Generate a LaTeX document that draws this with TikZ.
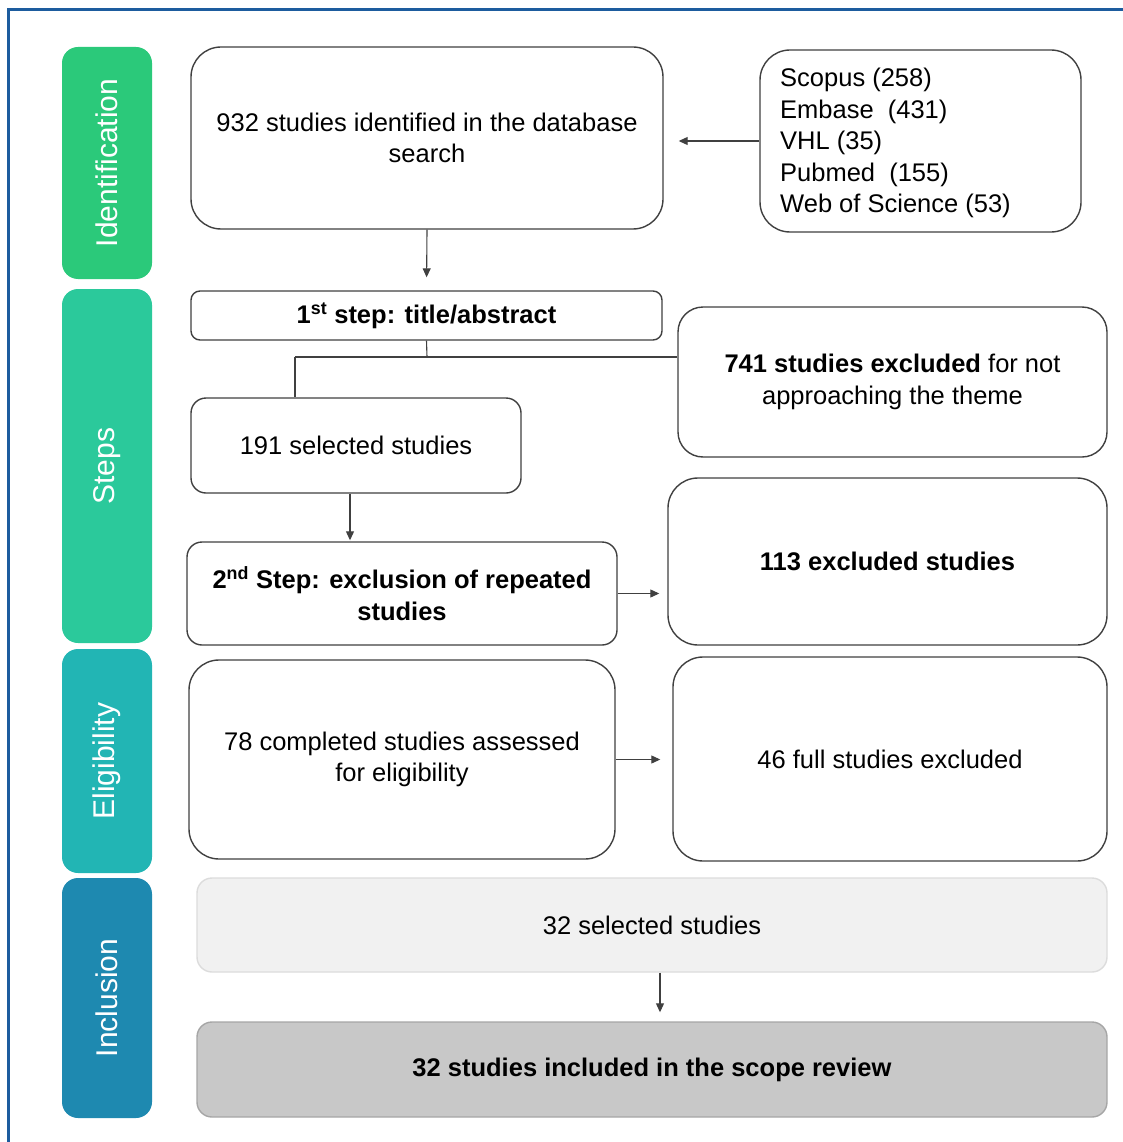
\documentclass[tikz,border=0pt]{standalone}
\usepackage{fontspec}
\setmainfont{Liberation Sans}
\usetikzlibrary{arrows.meta}
\definecolor{frameblue}{HTML}{1D5C9E}
\definecolor{cIdent}{HTML}{2BC97A}
\definecolor{cSteps}{HTML}{2BC99B}
\definecolor{cElig}{HTML}{22B5B4}
\definecolor{cIncl}{HTML}{1E89B0}
\definecolor{boxline}{HTML}{404040}
\definecolor{lightfill}{HTML}{F1F1F1}
\definecolor{lightline}{HTML}{DCDCDC}
\definecolor{darkfill}{HTML}{C8C8C8}
\definecolor{darkline}{HTML}{A6A6A6}
\begin{document}
\begin{tikzpicture}[x=1pt,y=-1pt,
  sidebar/.style={rounded corners=16pt, inner sep=0pt, text=white,
    font=\fontsize{30}{32}\selectfont, rotate=90},
  fbox/.style={draw=boxline, line width=1.4pt, fill=white, inner sep=0pt, align=center,
    font=\fontsize{25.5}{31.5}\selectfont},
  arr/.style={draw=boxline, line width=1.1pt, -{Triangle[length=9pt,width=8pt]}},
  ln/.style={draw=boxline, line width=1.1pt}]
\useasboundingbox (0,0) rectangle (1123,1142);
% frame
\draw[frameblue, line width=3pt] (8.5,1142) -- (8.5,10) -- (1123,10);
% side bars
\node[sidebar, fill=cIdent, minimum width=232pt, minimum height=90pt] (sIdent) at (107,163) {Identification};
\node[sidebar, fill=cSteps, minimum width=354pt, minimum height=90pt] (sSteps) at (107,466) {Steps};
\node[sidebar, fill=cElig, minimum width=224pt, minimum height=90pt] (sElig) at (107,761) {Eligibility};
\node[sidebar, fill=cIncl, minimum width=240pt, minimum height=90pt] (sIncl) at (107,998) {Inclusion};
% boxes
\node[fbox, rounded corners=30pt, minimum width=472pt, minimum height=182pt] (A) at (427,138)
  {932 studies identified in the database\\search};
\node[fbox, rounded corners=30pt, minimum width=321pt, minimum height=182pt] (B) at (920.5,141) {};
\node[anchor=west, align=left, inner sep=0pt, font=\fontsize{25.5}{31.5}\selectfont] (Btext) at (780,143)
  {Scopus (258)\\Embase~ (431)\\VHL (35)\\Pubmed~ (155)\\Web of Science (53)};
\node[fbox, rounded corners=9pt, minimum width=471pt, minimum height=49pt] (C) at (426.5,315.5)
  {\textbf{1\textsuperscript{st} step: title/abstract}};
\node[fbox, rounded corners=25pt, minimum width=429pt, minimum height=150pt] (D) at (892.5,382)
  {\textbf{741 studies excluded} for not\\approaching the theme};
\node[fbox, rounded corners=15pt, minimum width=330pt, minimum height=95pt] (E) at (356,445.5)
  {191 selected studies};
\node[fbox, rounded corners=15pt, minimum width=430pt, minimum height=103pt] (F) at (402,593.5)
  {\textbf{2\textsuperscript{nd} Step: exclusion of repeated}\\\textbf{studies}};
\node[fbox, rounded corners=30pt, minimum width=439pt, minimum height=167pt] (G) at (887.5,561.5)
  {\textbf{113 excluded studies}};
\node[fbox, rounded corners=30pt, minimum width=426pt, minimum height=199pt] (H) at (402,759.5)
  {78 completed studies assessed\\for eligibility};
\node[fbox, rounded corners=30pt, minimum width=434pt, minimum height=204pt] (I) at (890,759)
  {46 full studies excluded};
\node[fbox, draw=lightline, fill=lightfill, rounded corners=15pt, minimum width=910pt, minimum height=94pt] (J) at (652,925)
  {32 selected studies};
\node[fbox, draw=darkline, fill=darkfill, rounded corners=15pt, minimum width=910pt, minimum height=95pt] (K) at (652,1069.5)
  {\textbf{32 studies included in the scope review}};
% connectors
\draw[arr, shorten >=15pt] (B.west) -- (A.east |- B.west);
\draw[arr, shorten >=13pt] (A.south) -- (C.north);
\coordinate (j1) at (427,357);
\coordinate (j2) at (295,357);
\draw[ln] (C.south) -- (j1);
\draw[ln] (j2) -- (D.west |- j2);
\draw[ln] (j2) -- (j2 |- E.north);
\draw[arr, shorten >=1pt] ([xshift=-6pt]E.south) -- ([xshift=-6pt]E.south |- F.north);
\draw[arr, shorten >=8pt] (F.east) -- (G.west |- F.east);
\draw[arr, shorten >=12pt] (H.east) -- (I.west |- H.east);
\draw[arr, shorten >=9pt] ([xshift=8pt]J.south) -- ([xshift=8pt]J.south |- K.north);
\end{tikzpicture}
\end{document}
